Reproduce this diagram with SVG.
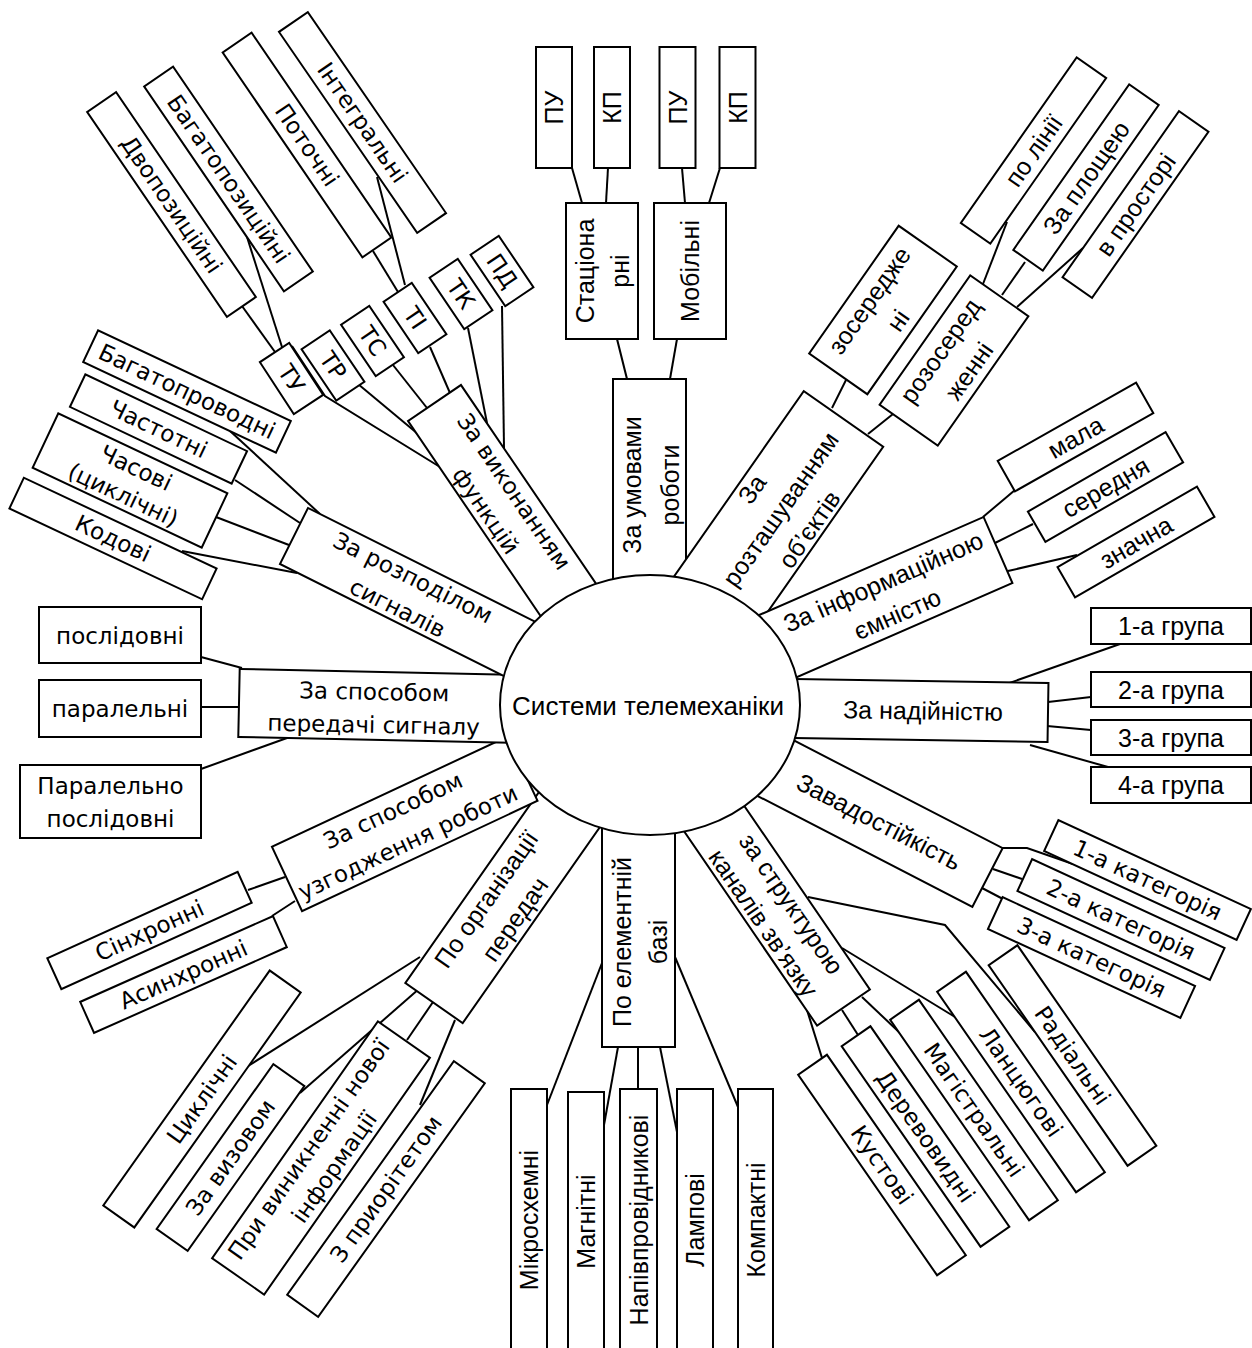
<svg xmlns="http://www.w3.org/2000/svg" width="1252" height="1348" viewBox="0 0 1252 1348">
<style>
  rect, ellipse { fill: #fff; stroke: #000; stroke-width: 2; }
  #connectors line, #connectors polyline { stroke: #000; stroke-width: 2; fill: none; }
  text { text-anchor: middle; dominant-baseline: central; fill: #000; }
  .c { font-family: "Liberation Sans", Arial, sans-serif; font-size: 25px; }
  .d { font-family: "DejaVu Sans", "Liberation Sans", sans-serif; font-size: 23px; }
</style>
<rect x="0" y="0" width="1252" height="1348" style="stroke:none"/>

<!-- connectors between nodes -->
<g id="connectors">
  <!-- working conditions -->
  <line x1="572" y1="168" x2="582" y2="203"/>
  <line x1="608" y1="168" x2="606" y2="203"/>
  <line x1="682" y1="168" x2="685" y2="203"/>
  <line x1="720" y1="168" x2="709" y2="203"/>
  <line x1="617" y1="339" x2="627" y2="379"/>
  <line x1="677" y1="339" x2="670" y2="379"/>
  <!-- functions -->
  <polyline points="292,346 325,396 440,467"/>
  <line x1="358" y1="384" x2="418" y2="434"/>
  <line x1="393" y1="365" x2="427" y2="408"/>
  <line x1="430" y1="347" x2="450" y2="393"/>
  <line x1="468" y1="328" x2="487" y2="423"/>
  <line x1="502" y1="306" x2="504" y2="448"/>
  <line x1="242" y1="306" x2="275" y2="352"/>
  <line x1="247" y1="237" x2="282" y2="347"/>
  <line x1="373" y1="251" x2="398" y2="292"/>
  <line x1="377" y1="177" x2="405" y2="285"/>
  <!-- location -->
  <line x1="846" y1="380" x2="832" y2="408"/>
  <line x1="893" y1="414" x2="868" y2="434"/>
  <line x1="983" y1="284" x2="1007" y2="222"/>
  <line x1="1002" y1="295" x2="1025" y2="262"/>
  <line x1="1017" y1="307" x2="1083" y2="248"/>
  <!-- capacity -->
  <line x1="983" y1="517" x2="1015" y2="490"/>
  <line x1="995" y1="543" x2="1033" y2="524"/>
  <line x1="1008" y1="571" x2="1077" y2="555"/>
  <!-- reliability -->
  <line x1="998" y1="687" x2="1120" y2="644"/>
  <line x1="1048" y1="702" x2="1091" y2="697"/>
  <line x1="1047" y1="726" x2="1091" y2="730"/>
  <line x1="1030" y1="745" x2="1108" y2="767"/>
  <!-- noise immunity -->
  <polyline points="1002,848 1027,848 1073,864"/>
  <line x1="993" y1="869" x2="1022" y2="879"/>
  <line x1="982" y1="888" x2="1003" y2="899"/>
  <!-- channel structure -->
  <line x1="807" y1="1010" x2="822" y2="1058"/>
  <line x1="842" y1="1010" x2="858" y2="1035"/>
  <line x1="862" y1="997" x2="900" y2="1033"/>
  <line x1="842" y1="948" x2="955" y2="1017"/>
  <polyline points="808,897 945,925 1035,1032"/>
  <!-- element base -->
  <line x1="602" y1="963" x2="547" y2="1105"/>
  <line x1="618" y1="1047" x2="604" y2="1125"/>
  <line x1="638" y1="1047" x2="638" y2="1089"/>
  <line x1="660" y1="1047" x2="677" y2="1132"/>
  <line x1="675" y1="957" x2="738" y2="1107"/>
  <!-- transmission organisation -->
  <line x1="245" y1="1068" x2="420" y2="957"/>
  <line x1="300" y1="1093" x2="420" y2="988"/>
  <line x1="407" y1="1040" x2="433" y2="1002"/>
  <line x1="420" y1="1105" x2="455" y2="1020"/>
  <!-- synchronisation -->
  <line x1="248" y1="890" x2="285" y2="877"/>
  <line x1="272" y1="916" x2="295" y2="901"/>
  <!-- signal transfer -->
  <line x1="201" y1="657" x2="242" y2="668"/>
  <line x1="201" y1="707" x2="238" y2="707"/>
  <line x1="201" y1="769" x2="287" y2="738"/>
  <!-- signal distribution -->
  <line x1="230" y1="431" x2="320" y2="514"/>
  <line x1="235" y1="480" x2="300" y2="523"/>
  <line x1="216" y1="517" x2="289" y2="545"/>
  <line x1="182" y1="551" x2="297" y2="573"/>
</g>

<!-- leaf nodes: working conditions -->
<g id="pu-1" transform="translate(554,107.5) rotate(-90)"><rect x="-60.5" y="-18" width="121" height="36"/><text class="c">ПУ</text></g>
<g id="kp-1" transform="translate(612,107.5) rotate(-90)"><rect x="-60.5" y="-18" width="121" height="36"/><text class="c">КП</text></g>
<g id="pu-2" transform="translate(677.5,107.5) rotate(-90)"><rect x="-60.5" y="-18" width="121" height="36"/><text class="c">ПУ</text></g>
<g id="kp-2" transform="translate(737.5,107.5) rotate(-90)"><rect x="-60.5" y="-18" width="121" height="36"/><text class="c">КП</text></g>
<g id="stationary" transform="translate(602,271) rotate(-90)"><rect x="-68" y="-36" width="136" height="72"/><text class="c" y="-17">Стаціона</text><text class="c" y="18">рні</text></g>
<g id="mobile" transform="translate(690,271) rotate(-90)"><rect x="-68" y="-36" width="136" height="72"/><text class="c">Мобільні</text></g>

<!-- leaf nodes: functions -->
<g id="tu" transform="translate(291.5,378.5) rotate(56.8)"><rect x="-31" y="-17.5" width="62" height="35"/><text class="d">ТУ</text></g>
<g id="tr" transform="translate(333,365.5) rotate(56)"><rect x="-31" y="-17" width="62" height="34"/><text class="d">ТР</text></g>
<g id="ts" transform="translate(372.5,341) rotate(56)"><rect x="-31" y="-17" width="62" height="34"/><text class="d">ТС</text></g>
<g id="ti" transform="translate(415,318) rotate(56)"><rect x="-31" y="-17" width="62" height="34"/><text class="d">ТІ</text></g>
<g id="tk" transform="translate(461,294) rotate(56)"><rect x="-31" y="-17" width="62" height="34"/><text class="d">ТК</text></g>
<g id="pd" transform="translate(502,271) rotate(56)"><rect x="-31" y="-17" width="62" height="34"/><text class="d">ПД</text></g>
<g id="two-pos" transform="translate(171.5,204.5) rotate(55.7)"><rect x="-124" y="-17.5" width="248" height="35"/><text class="d">Двопозиційні</text></g>
<g id="multi-pos" transform="translate(228.5,179) rotate(55.7)"><rect x="-124" y="-17.5" width="248" height="35"/><text class="d">Багатопозиційні</text></g>
<g id="current" transform="translate(307,145) rotate(55.7)"><rect x="-124" y="-17.5" width="248" height="35"/><text class="d">Поточні</text></g>
<g id="integral" transform="translate(362.5,122.5) rotate(55.5)"><rect x="-122" y="-17.5" width="244" height="35"/><text class="d">Інтегральні</text></g>

<!-- leaf nodes: object location -->
<g id="concentrated" transform="translate(883,310) rotate(-55)"><rect x="-78" y="-35.5" width="156" height="71"/><text class="c" y="-17">зосередже</text><text class="c" y="18">ні</text></g>
<g id="dispersed" transform="translate(954,360.5) rotate(-55)"><rect x="-79" y="-35.5" width="158" height="71"/><text class="c" y="-17">розосеред</text><text class="c" y="18">женні</text></g>
<g id="line-wise" transform="translate(1033.5,150.5) rotate(-55)"><rect x="-101" y="-18" width="202" height="36"/><text class="c">по лінії</text></g>
<g id="area-wise" transform="translate(1086,177.5) rotate(-55)"><rect x="-101" y="-18" width="202" height="36"/><text class="c">За площею</text></g>
<g id="space-wise" transform="translate(1135.5,204.5) rotate(-55)"><rect x="-101.5" y="-18" width="203" height="36"/><text class="c">в просторі</text></g>

<!-- leaf nodes: information capacity -->
<g id="small" transform="translate(1075.5,437) rotate(-29.5)"><rect x="-79.5" y="-17.5" width="159" height="35"/><text class="c">мала</text></g>
<g id="medium" transform="translate(1105.5,487) rotate(-30)"><rect x="-79.5" y="-17.5" width="159" height="35"/><text class="c">середня</text></g>
<g id="large" transform="translate(1136,542) rotate(-30)"><rect x="-80.5" y="-17.5" width="161" height="35"/><text class="c">значна</text></g>

<!-- leaf nodes: reliability -->
<g id="group-1"><rect x="1091" y="608" width="160" height="36"/><text class="c" x="1171" y="626">1-а група</text></g>
<g id="group-2"><rect x="1091" y="672" width="160" height="35"/><text class="c" x="1171" y="689.5">2-а група</text></g>
<g id="group-3"><rect x="1091" y="720" width="160" height="35"/><text class="c" x="1171" y="737.5">3-а група</text></g>
<g id="group-4"><rect x="1091" y="767" width="160" height="36"/><text class="c" x="1171" y="785">4-а група</text></g>

<!-- leaf nodes: noise immunity -->
<g id="cat-1" transform="translate(1147.5,880) rotate(24.8)"><rect x="-106" y="-17" width="212" height="34"/><text class="d">1-а категорія</text></g>
<g id="cat-2" transform="translate(1121,919.5) rotate(24.8)"><rect x="-106" y="-17.5" width="212" height="35"/><text class="d">2-а категорія</text></g>
<g id="cat-3" transform="translate(1091.5,957.5) rotate(24.8)"><rect x="-106" y="-17.5" width="212" height="35"/><text class="d">3-а категорія</text></g>

<!-- leaf nodes: channel structure -->
<g id="bush" transform="translate(882,1165) rotate(55.3)"><rect x="-122" y="-17.5" width="244" height="35"/><text class="d">Кустові</text></g>
<g id="tree" transform="translate(925.5,1136.5) rotate(55.3)"><rect x="-122" y="-17.5" width="244" height="35"/><text class="d">Деревовидні</text></g>
<g id="trunk" transform="translate(974,1110) rotate(55.3)"><rect x="-122" y="-17.5" width="244" height="35"/><text class="d">Магістральні</text></g>
<g id="chain" transform="translate(1021,1082) rotate(55.3)"><rect x="-122" y="-17.5" width="244" height="35"/><text class="d">Ланцюгові</text></g>
<g id="radial" transform="translate(1072.5,1055.5) rotate(55.3)"><rect x="-122" y="-17.5" width="244" height="35"/><text class="d">Радіальні</text></g>

<!-- leaf nodes: element base -->
<g id="microcircuit" transform="translate(529,1220) rotate(-90)"><rect x="-131" y="-18" width="262" height="36"/><text class="c">Мікросхемні</text></g>
<g id="magnetic" transform="translate(586,1221.5) rotate(-90)"><rect x="-129.5" y="-18" width="259" height="36"/><text class="c">Магнітні</text></g>
<g id="semiconductor" transform="translate(638.5,1220) rotate(-90)"><rect x="-131" y="-18.5" width="262" height="37"/><text class="c">Напівпровідникові</text></g>
<g id="tube" transform="translate(695,1220) rotate(-90)"><rect x="-131" y="-18" width="262" height="36"/><text class="c">Лампові</text></g>
<g id="compact" transform="translate(755.5,1220) rotate(-90)"><rect x="-131" y="-17.5" width="262" height="35"/><text class="c">Компактні</text></g>

<!-- leaf nodes: transmission organisation -->
<g id="cyclic" transform="translate(202,1099) rotate(-54.7)"><rect x="-144" y="-19" width="288" height="38"/><text class="d">Циклічні</text></g>
<g id="on-call" transform="translate(230.5,1157.5) rotate(-54.7)"><rect x="-101" y="-19" width="202" height="38"/><text class="d">За визовом</text></g>
<g id="on-new-info" transform="translate(321,1158) rotate(-55)"><rect x="-144.5" y="-31.75" width="289" height="63.5"/><text class="d" y="-15">При виникненні нової</text><text class="d" y="16">інформації</text></g>
<g id="priority" transform="translate(386,1189) rotate(-54.5)"><rect x="-143.5" y="-19" width="287" height="38"/><text class="d">З приорітетом</text></g>

<!-- leaf nodes: synchronisation -->
<g id="synchronous" transform="translate(149.5,930.5) rotate(-24.4)"><rect x="-104.5" y="-17" width="209" height="34"/><text class="d">Сінхронні</text></g>
<g id="asynchronous" transform="translate(183.5,974.5) rotate(-24)"><rect x="-105.5" y="-17" width="211" height="34"/><text class="d">Асинхронні</text></g>

<!-- leaf nodes: signal transfer -->
<g id="serial"><rect x="39" y="607" width="162" height="56"/><text class="d" x="120" y="636">послідовні</text></g>
<g id="parallel"><rect x="39" y="680" width="162" height="57"/><text class="d" x="120" y="709">паралельні</text></g>
<g id="parallel-serial"><rect x="20" y="765" width="181" height="73"/><text class="d" x="110.5" y="786">Паралельно</text><text class="d" x="110.5" y="819">послідовні</text></g>

<!-- leaf nodes: signal distribution -->
<g id="multiwire" transform="translate(187,391.5) rotate(25.2)"><rect x="-106.5" y="-17.5" width="213" height="35"/><text class="d">Багатопроводні</text></g>
<g id="frequency" transform="translate(158.5,429) rotate(25.4)"><rect x="-89.5" y="-18" width="179" height="36"/><text class="d">Частотні</text></g>
<g id="time" transform="translate(130,480.5) rotate(25.3)"><rect x="-93.5" y="-30" width="187" height="60"/><text class="d" y="-14">Часові</text><text class="d" y="16">(циклічні)</text></g>
<g id="code" transform="translate(113,538.5) rotate(25.2)"><rect x="-106.5" y="-17" width="213" height="34"/><text class="d">Кодові</text></g>

<!-- classification criteria around the hub -->
<g id="by-functions" transform="translate(434.5,403) rotate(55.8)"><rect x="0" y="-32" width="280" height="64"/><text class="d" x="118" y="-16">За виконанням</text><text class="d" x="118" y="18">функцій</text></g>
<g id="by-conditions" transform="translate(649.5,379) rotate(-90)"><rect x="-260" y="-36.5" width="260" height="73"/><text class="c" x="-106" y="-17.5">За умовами</text><text class="c" x="-106" y="20">роботи</text></g>
<g id="by-location" transform="translate(843.5,419) rotate(-55)"><rect x="-290" y="-48.5" width="290" height="97"/><text class="c" x="-110" y="-35">За</text><text class="c" x="-110" y="0">розташуванням</text><text class="c" x="-110" y="35">об’єктів</text></g>
<g id="by-capacity" transform="translate(998,550) rotate(-23.6)"><rect x="-300" y="-36" width="300" height="72"/><text class="c" x="-118" y="-17">За інформаційною</text><text class="c" x="-118" y="18">ємністю</text></g>
<g id="by-reliability" transform="translate(1048,712.5) rotate(0.9)"><rect x="-270" y="-29.5" width="270" height="59"/><text class="c" x="-125">За надійністю</text></g>
<g id="by-noise" transform="translate(987.5,877.5) rotate(27.3)"><rect x="-280" y="-33" width="280" height="66"/><text class="c" x="-122">Завадостійкість</text></g>
<g id="by-channels" transform="translate(843.5,1007.5) rotate(55.6)"><rect x="-280" y="-32" width="280" height="64"/><text class="c" x="-115" y="-16">за структурою</text><text class="c" x="-115" y="18">каналів зв’язку</text></g>
<g id="by-elements" transform="translate(638.5,1047) rotate(-90)"><rect x="0" y="-36.5" width="260" height="73"/><text class="c" x="105" y="-16.5">По елементній</text><text class="c" x="105" y="19.5">базі</text></g>
<g id="by-organisation" transform="translate(434,1003) rotate(-55)"><rect x="0" y="-35" width="280" height="70"/><text class="c" x="115" y="-17">По організації</text><text class="c" x="115" y="18">передач</text></g>
<g id="by-sync" transform="translate(287,879) rotate(-25.1)"><rect x="0" y="-35.5" width="260" height="71"/><text class="d" x="125" y="-17">За способом</text><text class="d" x="125" y="18">узгодження роботи</text></g>
<g id="by-transfer" transform="translate(239,703) rotate(1.2)"><rect x="0" y="-34" width="280" height="68"/><text class="d" x="135" y="-14">За способом</text><text class="d" x="135" y="19">передачі сигналу</text></g>
<g id="by-distribution" transform="translate(294,536) rotate(26.6)"><rect x="0" y="-31.3" width="280" height="62.6"/><text class="d" x="125" y="-16">За розподілом</text><text class="d" x="125" y="18">сигналів</text></g>

<!-- central node -->
<g id="hub"><ellipse cx="650" cy="705" rx="150" ry="130"/><text class="c" x="648" y="706" style="font-size:26px">Системи телемеханіки</text></g>
</svg>
